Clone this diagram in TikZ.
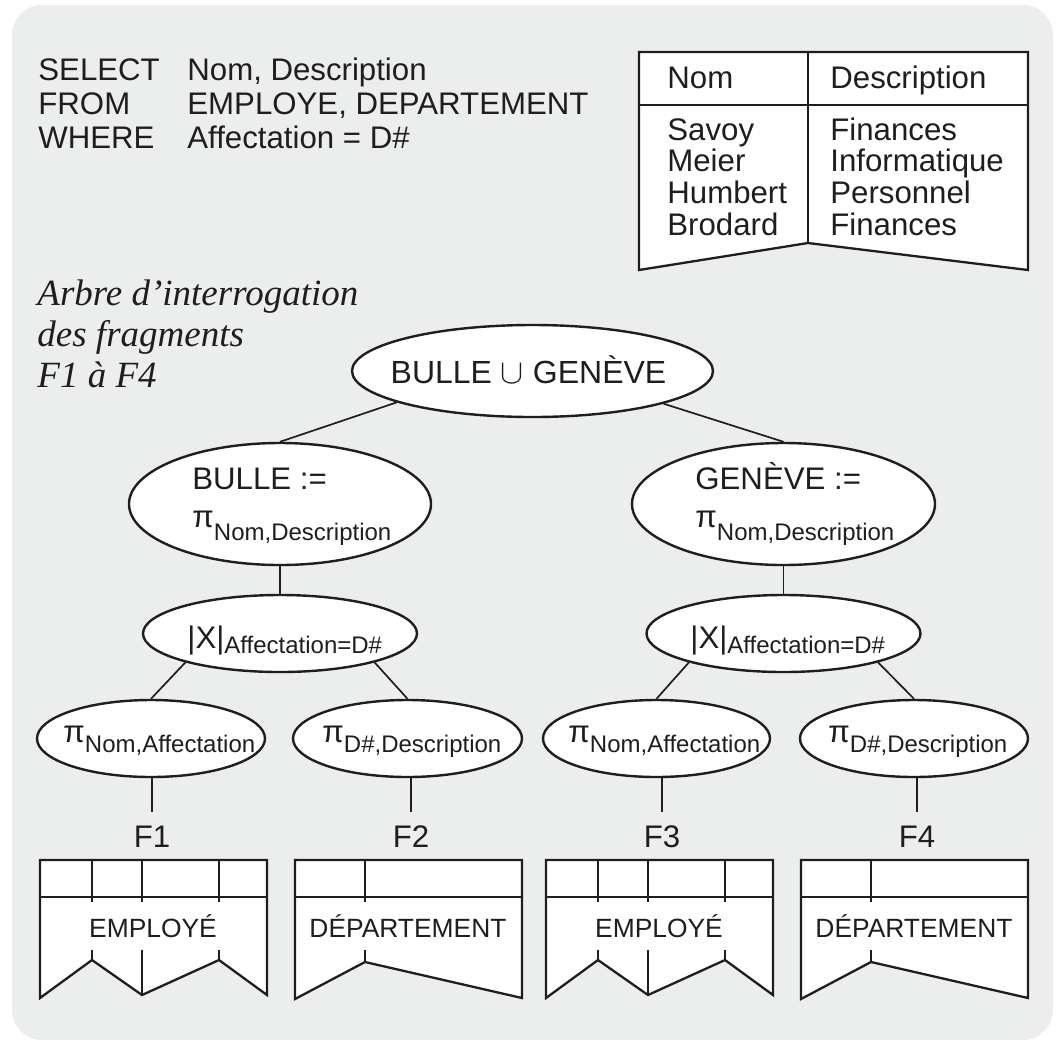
\documentclass[tikz,border=0pt]{standalone}
\usepackage{fontspec}
\setmainfont{Liberation Sans}
\newfontfamily\myserif{Liberation Serif}
\usetikzlibrary{shapes.geometric}
\definecolor{bg}{HTML}{ECEDED}
\definecolor{ink}{HTML}{1E1E1E}
\newcommand{\dmain}{\fontsize{15.6}{18}\selectfont}
\newcommand{\droot}{\fontsize{16}{18}\selectfont}
\newcommand{\dsub}{\fontsize{12}{14}\selectfont}
\newcommand{\dtab}{\fontsize{13.2}{15}\selectfont}
\newcommand{\dital}{\myserif\itshape\fontsize{18.5}{20.5}\selectfont}
\newcommand{\bigcupsym}{{\fontsize{17}{17}\selectfont$\cup$}}
\begin{document}
\begin{tikzpicture}[x=0.5pt,y=-0.5pt,
  txt/.style={inner sep=0pt, text=ink, font=\dmain},
  itl/.style={inner sep=0pt, text=ink, font=\dital, anchor=base west},
  ell/.style={ellipse, draw=ink, fill=white, line width=1.2pt, inner sep=0pt},
  conn/.style={draw=ink, line width=0.85pt},
  tab/.style={draw=ink, line width=1.15pt, line join=miter},
  flabel/.style={inner xsep=0pt, inner ysep=6.5pt, text=ink, font=\dmain, anchor=base},
  emp/.pic={
    \draw[tab, fill=white] (0,0) -- (227,0) -- (227,135) -- (179,100) -- (102,135) -- (52,100) -- (0,138) -- cycle;
    \draw[tab] (0,37) -- (227,37) (52,0) -- (52,42) (102,0) -- (102,42) (179,0) -- (179,42)
               (52,90) -- (52,100) (102,90) -- (102,135) (179,90) -- (179,100);
    \node[txt, font=\dtab, anchor=base] (-t) at (113,77) {EMPLOYÉ};
  },
  dep/.pic={
    \draw[tab, fill=white] (0,0) -- (227,0) -- (227,138) -- (70,102) -- (0,139) -- cycle;
    \draw[tab] (0,37) -- (227,37) (70,0) -- (70,42) (70,90) -- (70,102);
    \node[txt, font=\dtab, anchor=base] (-t) at (113,77) {DÉPARTEMENT};
  }
]
\useasboundingbox (0,0) rectangle (1057,1041);
\fill[bg, rounded corners=15pt] (12,5) rectangle (1053,1040);

% SQL query
\node[txt, anchor=base west] (sel)    at (38,80)  {SELECT};
\node[txt, anchor=base west] (selv)   at (187,80) {Nom, Description};
\node[txt, anchor=base west] (from)   at (38,114) {FROM};
\node[txt, anchor=base west] (fromv)  at (187,114) {EMPLOYE, DEPARTEMENT};
\node[txt, anchor=base west] (where)  at (38,148) {WHERE};
\node[txt, anchor=base west] (wherev) at (187,148) {Affectation = D\#};

% result table
\draw[tab, fill=white] (639,52) -- (1028,52) -- (1028,270) -- (808,243) -- (639,270) -- cycle;
\draw[tab] (639,105) -- (1028,105) (808,52) -- (808,243);
\node[txt, anchor=base west] (hnom)  at (667,88) {Nom};
\node[txt, anchor=base west] (hdesc) at (830,88) {Description};
\foreach \n/\d [count=\i] in {Savoy/Finances, Meier/Informatique, Humbert/Personnel, Brodard/Finances}{
  \node[txt, anchor=base west] (nom\i)  at (667,108.4+31.75*\i) {\n};
  \node[txt, anchor=base west] (desc\i) at (830,108.4+31.75*\i) {\d};
}

% caption
\node[itl] (cap1) at (37,305) {Arbre d’interrogation};
\node[itl] (cap2) at (37,346) {des fragments};
\node[itl] (cap3) at (37,387) {F1 à F4};

% tree ellipses
\node[ell, minimum width=180.5pt, minimum height=46pt] (root) at (532.5,371) {};
\node[txt, font=\droot, anchor=base] (roott) at (528.5,383) {BULLE \bigcupsym\ GENÈVE};

\node[ell, minimum width=151pt, minimum height=61pt] (bulle) at (280,504) {};
\node[txt, anchor=base west] (bullea) at (192,489) {BULLE :=};
\node[txt, anchor=base west] (bulleb) at (192,527) {π\raisebox{-6.5pt}{\dsub Nom,Description}};

\node[ell, minimum width=151.5pt, minimum height=61pt] (gen) at (783.5,504) {};
\node[txt, anchor=base west] (gena) at (695,489) {GENÈVE :=};
\node[txt, anchor=base west] (genb) at (695,527) {π\raisebox{-6.5pt}{\dsub Nom,Description}};

\node[ell, minimum width=137pt, minimum height=38.5pt] (j1) at (280,633.5) {};
\node[txt, anchor=base west] (j1t) at (187,648) {|X|\raisebox{-2.5pt}{\dsub Affectation=D\#}};
\node[ell, minimum width=137pt, minimum height=38.5pt] (j2) at (783.5,633.5) {};
\node[txt, anchor=base west] (j2t) at (690,648) {|X|\raisebox{-2.5pt}{\dsub Affectation=D\#}};

\node[ell, minimum width=114pt, minimum height=38.5pt] (l1) at (151,738.5) {};
\node[txt, anchor=base west] (l1t) at (63,742) {π\raisebox{-5pt}{\dsub Nom,Affectation}};
\node[ell, minimum width=114.5pt, minimum height=38.5pt] (l2) at (407.5,738.5) {};
\node[txt, anchor=base west] (l2t) at (322,742) {π\raisebox{-5pt}{\dsub D\#,Description}};
\node[ell, minimum width=113.5pt, minimum height=38.5pt] (l3) at (656.5,738.5) {};
\node[txt, anchor=base west] (l3t) at (568,742) {π\raisebox{-5pt}{\dsub Nom,Affectation}};
\node[ell, minimum width=114pt, minimum height=38.5pt] (l4) at (914,738.5) {};
\node[txt, anchor=base west] (l4t) at (828,742) {π\raisebox{-5pt}{\dsub D\#,Description}};

% fragment labels
\node[flabel] (f1) at (152,847) {F1};
\node[flabel] (f2) at (411,847) {F2};
\node[flabel] (f3) at (662,847) {F3};
\node[flabel] (f4) at (917,847) {F4};

% connectors
\draw[conn] (root.193.6) -- (bulle.north);
\draw[conn] (root.346.4) -- (gen.north);
\draw[conn] (bulle.south) -- (j1.north);
\draw[conn] (gen.south) -- (j2.north);
\draw[conn] (j1.197) -- (l1.north);
\draw[conn] (j1.343) -- (l2.north);
\draw[conn] (j2.197) -- (l3.north);
\draw[conn] (j2.343) -- (l4.north);
\draw[conn] (l1.south -| f1.north) -- (f1.north);
\draw[conn] (l2.south -| f2.north) -- (f2.north);
\draw[conn] (l3.south -| f3.north) -- (f3.north);
\draw[conn] (l4.south -| f4.north) -- (f4.north);

% relation tables
\pic (t1) at (40,860) {emp};
\pic (t2) at (295,860) {dep};
\pic (t3) at (546,860) {emp};
\pic (t4) at (801,860) {dep};
\end{tikzpicture}
\end{document}
